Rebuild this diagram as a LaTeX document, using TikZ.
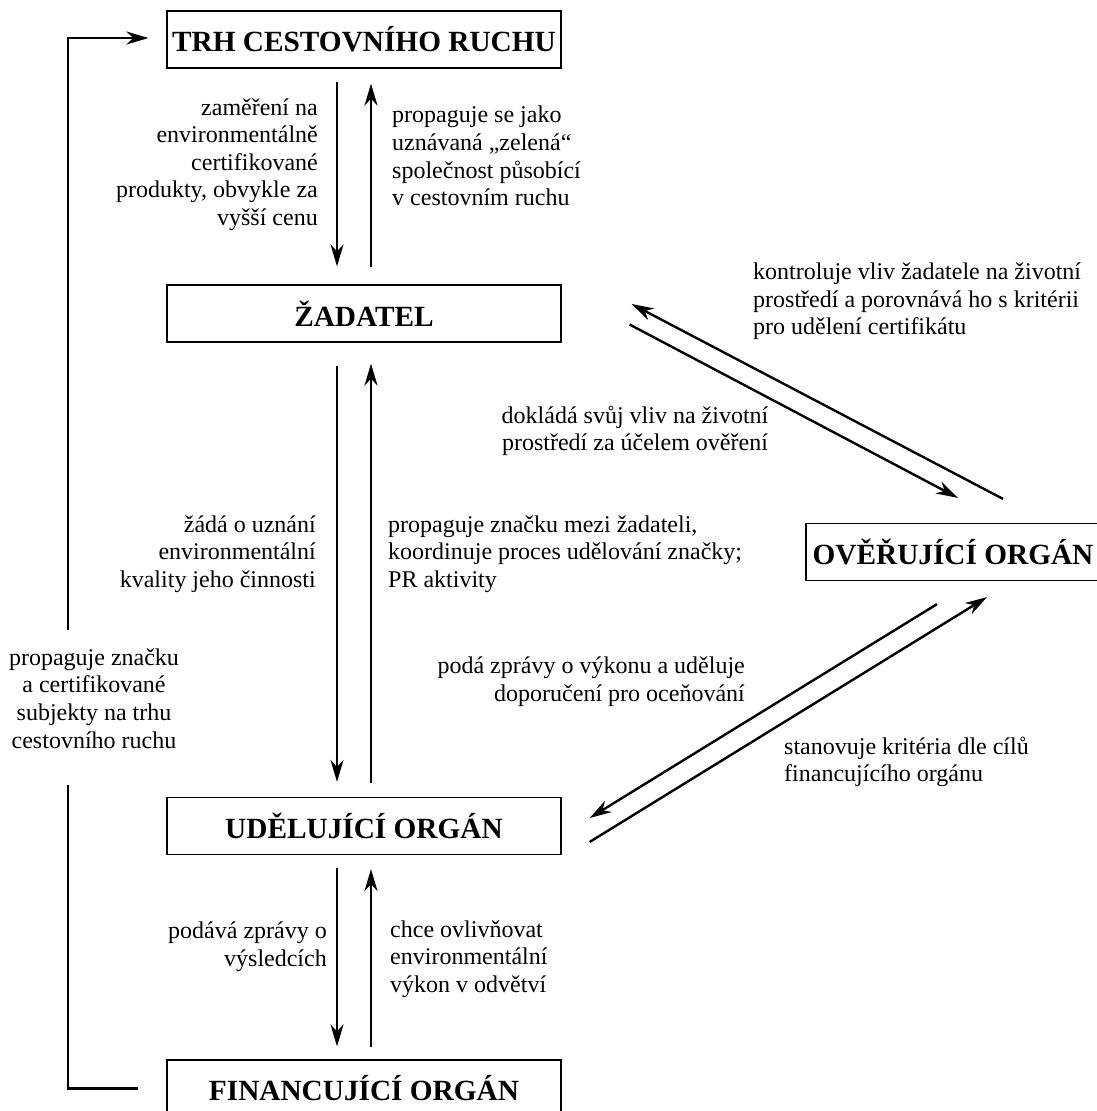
\documentclass[tikz,border=0pt]{standalone}
\usepackage{fontspec}
\setmainfont{Liberation Serif}
\usetikzlibrary{arrows.meta,calc}
\begin{document}
\begin{tikzpicture}[x=1pt,y=-1pt,
  box/.style={draw, line width=1.2pt, minimum width=394pt, minimum height=57pt, inner sep=0pt,
    font=\fontsize{29.3pt}{34pt}\selectfont\bfseries},
  lab/.style={inner sep=0pt, font=\fontsize{24pt}{27.6pt}\selectfont},
  arr/.style={line width=2.4pt, -{Stealth[length=22pt,width=13pt,inset=7pt]}},
  ln/.style={line width=2.4pt}]
\useasboundingbox (0,0) rectangle (1096,1111);

% boxes
\node[box] (trh) at (364,39.5) {TRH CESTOVNÍHO RUCHU};
\node[box] (zad) at (364,313.5) {ŽADATEL};
\node[box] (ude) at (364,826) {UDĚLUJÍCÍ ORGÁN};
\node[box] (fin) at (364,1088.5) {FINANCUJÍCÍ ORGÁN};
\node[box, minimum width=294pt] (ove) at (953,552) {OVĚŘUJÍCÍ ORGÁN};

% vertical arrows
\draw[arr] ([shift={(-27,13)}]trh.south) -- ([shift={(-27,-18)}]zad.north);
\draw[arr] ([shift={(7,-17)}]zad.north) -- ([shift={(7,15)}]trh.south);
\draw[arr] ([shift={(-27,23)}]zad.south) -- ([shift={(-27,-15)}]ude.north);
\draw[arr] ([shift={(7,-14)}]ude.north) -- ([shift={(7,21)}]zad.south);
\draw[arr] ([shift={(-27,13)}]ude.south) -- ([shift={(-27,-13)}]fin.north);
\draw[arr] ([shift={(7,-12)}]fin.north) -- ([shift={(7,14)}]ude.south);

% left feedback line
\coordinate (lt) at (68,630);
\coordinate (lb) at (68,785);
\draw[arr] (lt) |- ([shift={(-18,-1.5)}]trh.west);
\draw[ln] (lb) |- ([shift={(-28,0)}]fin.west);

% diagonal arrows
\draw[arr] ([shift={(50,-24)}]ove.north) -- ([shift={(70,-9.5)}]zad.east);
\draw[arr] ([shift={(68,11)}]zad.east) -- ([shift={(5,-25)}]ove.north);
\draw[arr] ([shift={(-16,23)}]ove.south) -- ([shift={(28,-8)}]ude.east);
\draw[arr] ([shift={(28,16)}]ude.east) -- ([shift={(34,16)}]ove.south);

% labels
\node[lab, align=right, anchor=east] (l1) at (318,164.5) {zaměření na\\environmentálně\\certifikované\\produkty, obvykle za\\vyšší cenu};
\node[lab, align=left, anchor=west] (l2) at (392,156) {propaguje se jako\\uznávaná „zelená“\\společnost působící\\v cestovním ruchu};
\node[lab, align=left, anchor=west] (l3) at (753,301.5) {kontroluje vliv žadatele na životní\\prostředí a porovnává ho s kritérii\\pro udělení certifikátu};
\node[lab, align=center] (l4) at (635,431) {dokládá svůj vliv na životní\\prostředí za účelem ověření};
\node[lab, align=right, anchor=east] (l5) at (316,554) {žádá o uznání\\environmentální\\kvality jeho činnosti};
\node[lab, align=left, anchor=west] (l6) at (388,554) {propaguje značku mezi žadateli,\\koordinuje proces udělování značky;\\PR aktivity};
\node[lab, align=right, anchor=east] (l7) at (745,681.5) {podá zprávy o výkonu a uděluje\\doporučení pro oceňování};
\node[lab, align=left, anchor=west] (l8) at (784,762) {stanovuje kritéria dle cílů\\financujícího orgánu};
\node[lab, align=center] (l9) at (94,698.5) {propaguje značku\\a certifikované\\subjekty na trhu\\cestovního ruchu};
\node[lab, align=right, anchor=east] (l10) at (327,947) {podává zprávy o\\výsledcích};
\node[lab, align=left, anchor=west] (l11) at (390,959) {chce ovlivňovat\\environmentální\\výkon v odvětví};
\end{tikzpicture}
\end{document}
